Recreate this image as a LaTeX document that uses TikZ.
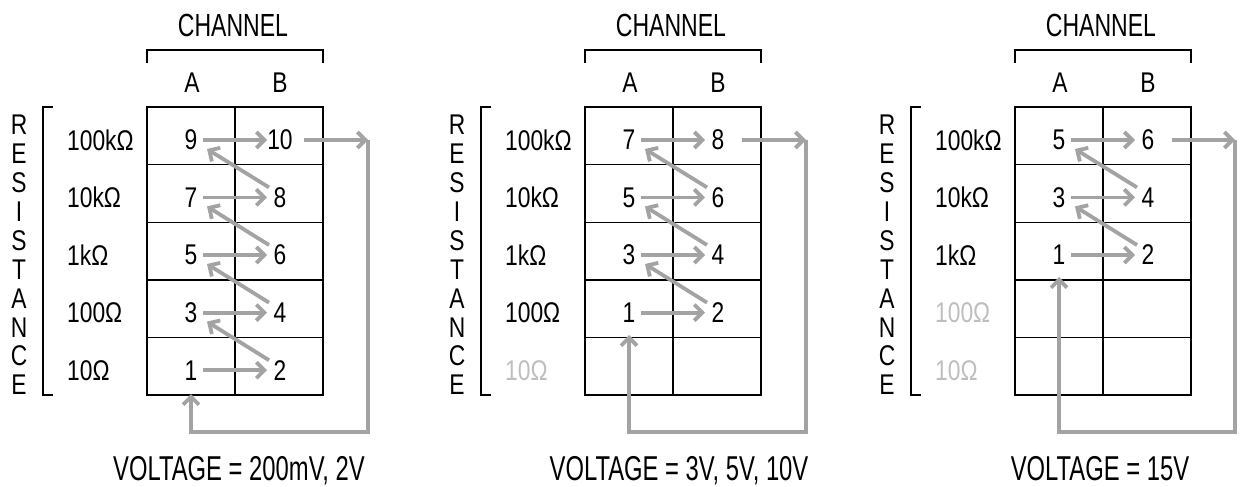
\documentclass[tikz,border=0pt]{standalone}
\usepackage{fontspec}
\setmainfont{Liberation Sans}[FakeStretch=0.8]
\newfontfamily\chanfont{Liberation Sans}[FakeStretch=0.72]
\newfontfamily\voltfont{Liberation Sans}[FakeStretch=0.69]
\usepackage{tikz}
\usetikzlibrary{arrows.meta,calc}

\definecolor{flowgray}{RGB}{163,163,163}
\definecolor{fadegray}{RGB}{190,190,190}

\begin{document}
\begin{tikzpicture}[
    x=1pt, y=-1pt,
    grid/.style={draw=black, line width=1.4pt},
    bracket/.style={draw=black, line width=1.4pt},
    title/.style={inner sep=0pt, font=\chanfont\fontsize{32}{34}\selectfont},
    colname/.style={inner sep=0pt, font=\fontsize{28.5}{30}\selectfont},
    vert/.style={inner sep=0pt, align=center, font=\fontsize{28.5}{28.9}\selectfont},
    rlabel/.style={inner sep=0pt, anchor=west, font=\fontsize{28.5}{30}\selectfont},
    faded/.style={rlabel, text=fadegray},
    num/.style={inner sep=0pt, font=\fontsize{28.5}{30}\selectfont},
    flow/.style={draw=flowgray, line width=3.8pt, -{Straight Barb[length=8pt,width=16pt]}},
    across/.style={flow, shorten <=12pt, shorten >=13pt},
    volt/.style={inner sep=0pt, anchor=base, font=\voltfont\fontsize{34.5}{36}\selectfont}
]

\useasboundingbox (0,0) rectangle (1240,487);

% ---- panel 1: 200mV, 2V
\begin{scope}[xshift=147pt]
\draw[grid] (0,107) rectangle (176,395);
\draw[grid] (88,107) -- (88,395);
\foreach \y in {164.6,222.2,279.8,337.4}
    \draw[grid] (0,\y) -- (176,\y);
\draw[bracket] (0,63) -- (0,50) -- (176,50) -- (176,63);
\node[title] (p1chan) at (86,25) {CHANNEL};
\node[colname] (p1colA) at (45,83) {A};
\node[colname] (p1colB) at (133,83) {B};
\node[vert] (p1res) at (-128,255) {R\\E\\S\\I\\S\\T\\A\\N\\C\\E};
\draw[bracket] (-94,107) -- (-104,107) -- (-104,395) -- (-94,395);

\node[rlabel] (p1r1) at (-80,140) {100kΩ};
\node[rlabel] (p1r2) at (-80,197.4) {10kΩ};
\node[rlabel] (p1r3) at (-80,255) {1kΩ};
\node[rlabel] (p1r4) at (-80,312.6) {100Ω};
\node[rlabel] (p1r5) at (-80,370.2) {10Ω};

\node[num] (p1n9) at (44,140) {9};
\node[num] (p1n10) at (133,140) {10};
\node[num] (p1n7) at (44,197.4) {7};
\node[num] (p1n8) at (133,197.4) {8};
\node[num] (p1n5) at (44,255) {5};
\node[num] (p1n6) at (133,255) {6};
\node[num] (p1n3) at (44,312.6) {3};
\node[num] (p1n4) at (133,312.6) {4};
\node[num] (p1n1) at (44,370.2) {1};
\node[num] (p1n2) at (133,370.2) {2};

\coordinate (p1out) at (221,140);
\coordinate (p1low) at (44,432);
\coordinate (p1in) at (44,394);

\draw[across] (p1n1.center) -- (p1n2.center);
\draw[across] (p1n3.center) -- (p1n4.center);
\draw[across] (p1n5.center) -- (p1n6.center);
\draw[across] (p1n7.center) -- (p1n8.center);
\draw[across] (p1n9.center) -- (p1n10.center);
\draw[flow] ($(p1n2)+(-11,-10)$) -- ($(p1n3)+(16,9)$);
\draw[flow] ($(p1n4)+(-11,-10)$) -- ($(p1n5)+(16,9)$);
\draw[flow] ($(p1n6)+(-11,-10)$) -- ($(p1n7)+(16,9)$);
\draw[flow] ($(p1n8)+(-11,-10)$) -- ($(p1n9)+(16,9)$);
\draw[flow, shorten <=24pt] (p1n10.center) -- (p1out);
\draw[flow] (p1out) |- (p1low) -- (p1in);

\node[volt] (p1volt) at (92,480) {VOLTAGE = 200mV, 2V};
\end{scope}

% ---- panel 2: 3V, 5V, 10V
\begin{scope}[xshift=585pt]
\draw[grid] (0,107) rectangle (176,395);
\draw[grid] (88,107) -- (88,395);
\foreach \y in {164.6,222.2,279.8,337.4}
    \draw[grid] (0,\y) -- (176,\y);
\draw[bracket] (0,63) -- (0,50) -- (176,50) -- (176,63);
\node[title] (p2chan) at (86,25) {CHANNEL};
\node[colname] (p2colA) at (45,83) {A};
\node[colname] (p2colB) at (133,83) {B};
\node[vert] (p2res) at (-128,255) {R\\E\\S\\I\\S\\T\\A\\N\\C\\E};
\draw[bracket] (-94,107) -- (-104,107) -- (-104,395) -- (-94,395);

\node[rlabel] (p2r1) at (-80,140) {100kΩ};
\node[rlabel] (p2r2) at (-80,197.4) {10kΩ};
\node[rlabel] (p2r3) at (-80,255) {1kΩ};
\node[rlabel] (p2r4) at (-80,312.6) {100Ω};
\node[faded] (p2r5) at (-80,370.2) {10Ω};

\node[num] (p2n7) at (44,140) {7};
\node[num] (p2n8) at (133,140) {8};
\node[num] (p2n5) at (44,197.4) {5};
\node[num] (p2n6) at (133,197.4) {6};
\node[num] (p2n3) at (44,255) {3};
\node[num] (p2n4) at (133,255) {4};
\node[num] (p2n1) at (44,312.6) {1};
\node[num] (p2n2) at (133,312.6) {2};

\coordinate (p2out) at (221,140);
\coordinate (p2low) at (44,432);
\coordinate (p2in) at (44,335);

\draw[across] (p2n1.center) -- (p2n2.center);
\draw[across] (p2n3.center) -- (p2n4.center);
\draw[across] (p2n5.center) -- (p2n6.center);
\draw[across] (p2n7.center) -- (p2n8.center);
\draw[flow] ($(p2n2)+(-11,-10)$) -- ($(p2n3)+(16,9)$);
\draw[flow] ($(p2n4)+(-11,-10)$) -- ($(p2n5)+(16,9)$);
\draw[flow] ($(p2n6)+(-11,-10)$) -- ($(p2n7)+(16,9)$);
\draw[flow, shorten <=24pt] (p2n8.center) -- (p2out);
\draw[flow] (p2out) |- (p2low) -- (p2in);

\node[volt] (p2volt) at (94,480) {VOLTAGE = 3V, 5V, 10V};
\end{scope}

% ---- panel 3: 15V
\begin{scope}[xshift=1015pt]
\draw[grid] (0,107) rectangle (176,395);
\draw[grid] (88,107) -- (88,395);
\foreach \y in {164.6,222.2,279.8,337.4}
    \draw[grid] (0,\y) -- (176,\y);
\draw[bracket] (0,63) -- (0,50) -- (176,50) -- (176,63);
\node[title] (p3chan) at (86,25) {CHANNEL};
\node[colname] (p3colA) at (45,83) {A};
\node[colname] (p3colB) at (133,83) {B};
\node[vert] (p3res) at (-128,255) {R\\E\\S\\I\\S\\T\\A\\N\\C\\E};
\draw[bracket] (-94,107) -- (-104,107) -- (-104,395) -- (-94,395);

\node[rlabel] (p3r1) at (-80,140) {100kΩ};
\node[rlabel] (p3r2) at (-80,197.4) {10kΩ};
\node[rlabel] (p3r3) at (-80,255) {1kΩ};
\node[faded] (p3r4) at (-80,312.6) {100Ω};
\node[faded] (p3r5) at (-80,370.2) {10Ω};

\node[num] (p3n5) at (44,140) {5};
\node[num] (p3n6) at (133,140) {6};
\node[num] (p3n3) at (44,197.4) {3};
\node[num] (p3n4) at (133,197.4) {4};
\node[num] (p3n1) at (44,255) {1};
\node[num] (p3n2) at (133,255) {2};

\coordinate (p3out) at (220,140);
\coordinate (p3low) at (44,432);
\coordinate (p3in) at (44,277);

\draw[across] (p3n1.center) -- (p3n2.center);
\draw[across] (p3n3.center) -- (p3n4.center);
\draw[across] (p3n5.center) -- (p3n6.center);
\draw[flow] ($(p3n2)+(-11,-10)$) -- ($(p3n3)+(16,9)$);
\draw[flow] ($(p3n4)+(-11,-10)$) -- ($(p3n5)+(16,9)$);
\draw[flow, shorten <=24pt] (p3n6.center) -- (p3out);
\draw[flow] (p3out) |- (p3low) -- (p3in);

\node[volt] (p3volt) at (85,480) {VOLTAGE = 15V};
\end{scope}

\end{tikzpicture}
\end{document}
